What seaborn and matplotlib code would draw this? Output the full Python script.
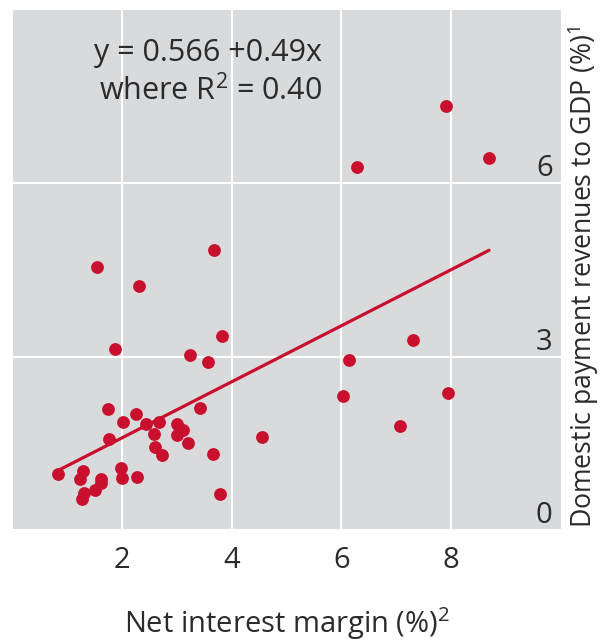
import numpy as np
import pandas as pd
import matplotlib
matplotlib.use("Agg")
import matplotlib.pyplot as plt
import seaborn as sns

# ==============================
# DATA
# ==============================

net_interest_margin = [
    7.91, 8.69, 6.28, 3.68, 1.55, 2.31, 3.83, 1.88, 3.24, 3.57,
    6.14, 7.30, 6.03, 7.94, 7.07, 4.55, 3.79,
    1.75, 2.26, 2.02, 2.44, 2.68, 3.01, 3.12, 3.01, 2.59, 1.77,
    3.21, 2.61, 2.74, 3.67, 3.42, 1.98,
    0.84, 1.30, 1.23, 1.62, 1.63, 1.51, 1.32, 1.27, 2.00, 2.27,
]
payment_revenues = [
    7.34, 6.44, 6.29, 4.85, 4.56, 4.23, 3.37, 3.14, 3.04, 2.92,
    2.95, 3.30, 2.33, 2.38, 1.81, 1.62, 0.63,
    2.10, 2.02, 1.87, 1.84, 1.87, 1.84, 1.73, 1.65, 1.67, 1.58,
    1.51, 1.45, 1.31, 1.32, 2.11, 1.08,
    0.97, 1.03, 0.89, 0.89, 0.82, 0.70, 0.64, 0.54, 0.90, 0.93,
]

x_ticks = [0, 2, 4, 6, 8]
x_tick_labels = ["", "2", "4", "6", "8"]
y_ticks = [0, 3, 6]
y_tick_labels = ["0", "3", "6"]

equation_text = "y = 0.566 +0.49x\nwhere R$^2$ = 0.40"
x_title = "Net interest margin (%)$^2$"
y_title = "Domestic payment revenues to GDP (%)$^1$"

data = pd.DataFrame({"nim": net_interest_margin, "rev": payment_revenues})

# ==============================
# STYLE
# ==============================

sns.set_style("white")
plt.rcParams["font.family"] = ["Open Sans", "DejaVu Sans"]
plt.rcParams["mathtext.fontset"] = "custom"
plt.rcParams["mathtext.rm"] = "Open Sans"
plt.rcParams["mathtext.it"] = "Open Sans"

red = "#C8102E"
text_col = "#2b2b2b"

fig = plt.figure(figsize=(6, 6.43), dpi=100)
ax = fig.add_axes([0.02, 0.175, 0.915, 0.8095])
ax.set_facecolor("#D9DADC")

sns.regplot(
    data=data, x="nim", y="rev", ax=ax, ci=None, color=red,
    scatter_kws={"s": 85, "alpha": 1, "linewidths": 0},
    line_kws={"linewidth": 2.3},
)

ax.set_xlim(0, 10)
ax.set_ylim(0, 9)

for s in ax.spines.values():
    s.set_visible(False)

ax.grid(True, color="white", linewidth=1.5)
ax.set_axisbelow(True)

# x axis
ax.set_xticks(x_ticks)
ax.set_xticklabels(x_tick_labels)
ax.tick_params(axis="x", direction="in", length=15, width=1.4, color="#333333",
               labelsize=21, labelcolor=text_col, pad=11)
ax.set_xlabel(x_title, fontsize=21, color=text_col, labelpad=22)

# y axis on the right, labels inside the plot
ax.yaxis.tick_right()
ax.set_yticks(y_ticks)
ax.set_yticklabels(y_tick_labels)
ax.tick_params(axis="y", length=0, labelsize=21, labelcolor=text_col, pad=-6)
for lab in ax.get_yticklabels():
    lab.set_horizontalalignment("right")
    lab.set_verticalalignment("bottom")
ax.set_ylabel("")
fig.text(0.972, 0.57, y_title, rotation=90, fontsize=19.2, color=text_col,
         ha="center", va="center")

ax.text(5.65, 8.52, equation_text, fontsize=22, color=text_col,
        ha="right", va="top", linespacing=1.3)

fig.savefig("out.png", dpi=100)
